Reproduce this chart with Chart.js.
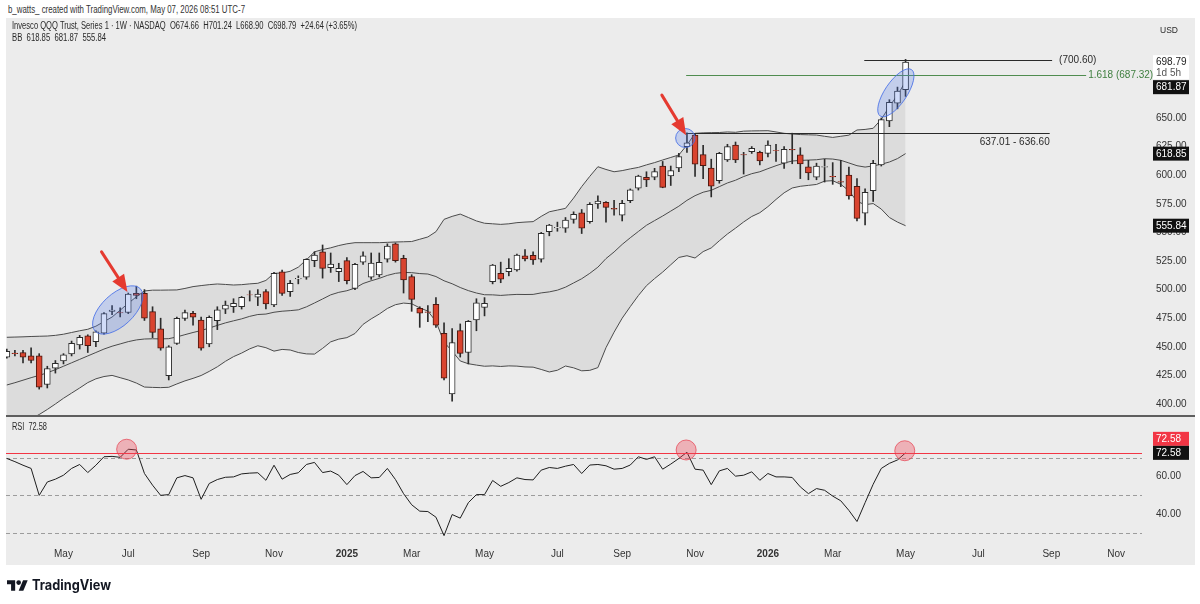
<!DOCTYPE html>
<html lang="en">
<head>
<meta charset="UTF-8">
<title>Invesco QQQ Trust - 1W</title>
<script src="https://cdn.jsdelivr.net/npm/chart.js"></script>
<style>
  body { margin: 0; width: 1200px; height: 604px; background: #fff; position: relative; overflow: hidden;
         font-family: "Liberation Sans", Arial, sans-serif; }
  .panel { position: absolute; left: 6px; top: 18px; width: 1189px; height: 547px; background: #ececec; }
  .sep { position: absolute; left: 6px; top: 415px; width: 1189px; height: 2px; background: #5e5e5e; }
  canvas { position: absolute; left: 0; }
  #priceCanvas { top: 18px; }
  #rsiCanvas { top: 417px; }
  .txt { position: absolute; white-space: pre; transform-origin: left center; color: #2a2a2a; font-size: 10px; line-height: 12px; }
  #logoIcon { position: absolute; left: 7px; top: 578px; }
  #logoTxt { position: absolute; left: 32px; top: 576px; font-family: Inter, "Open Sans", sans-serif; font-weight: 700;
             font-size: 14px; line-height: 18px; color: #131722; white-space: pre; transform-origin: left center; }
</style>
</head>
<body>
<div class="panel"></div>
<canvas id="priceCanvas" width="1200" height="398"></canvas>
<div class="sep"></div>
<canvas id="rsiCanvas" width="1200" height="148"></canvas>

<div class="txt" id="hdr" style="left:8px;top:4px;color:#333">b_watts_ created with TradingView.com, May 07, 2026 08:51 UTC-7</div>
<div class="txt" id="leg1" style="left:12px;top:20px">Invesco QQQ Trust, Series 1 · 1W · NASDAQ  O674.66  H701.24  L668.90  C698.79  +24.64 (+3.65%)</div>
<div class="txt" id="leg2" style="left:12px;top:32px">BB  618.85  681.87  555.84</div>
<div class="txt" id="usd" style="left:1160px;top:24px;font-size:9px">USD</div>
<div class="txt" id="rsiLbl" style="left:12px;top:421px">RSI  72.58</div>
<svg id="logoIcon" width="21" height="15" viewBox="0 2 36 22"><path d="M14 22H7V11H0V4h14v18z" fill="#131722"/><circle cx="20" cy="8" r="4" fill="#131722"/><path d="M28 22h-8l7.5-18h8L28 22z" fill="#131722"/></svg>
<div id="logoTxt">TradingView</div>

<script>
// weekly bars, index 0 = week of 18 Mar 2024, index 111 = week of 4 May 2026
const opens = [441,444.5,445,442,442,417,431.2,437.6,443.7,451.6,
  459.5,454.5,462,481,480,480,496.7,496.7,480.7,465.6,
  424.7,453,474.9,479.3,473.4,452.4,472.8,482.8,485,485.1,
  495.5,493.3,498.2,486.5,515.6,498.2,509.4,510.8,525.3,533.1,
  519.2,515.6,525.3,501.1,524,510.8,512.8,526.5,539.9,527.4,
  511.3,483.6,480.5,487.1,461.8,408.7,464.1,445,473.4,484.5,
  506.9,514.2,515.6,517.1,529.6,530,526.5,550.6,554,553.6,
  561.4,567.2,559.4,574.8,576.3,571,565,577.7,588.6,598.2,
  598.2,608,599.3,606.3,624.9,635.1,618,606.3,595.2,613.3,
  626.4,618,620.5,620,619.1,621.5,610.4,622.5,617.7,607.4,
  598.2,607,599,594.5,600.2,590.3,566.7,586.5,609,647.5,
  663,674.66];
const highs = [448,447,447,449,444,433,438,444,455,460,
  460.5,464,480,486,484,497,503,500,485,475,
  451,476,482,481,476,477,485,490,492,494,
  499,500,500,515,517,508,512,527,533,539,
  532,523,528,523,533,532,532,540,540.8,530,
  513,485,486,493,471,466,470,473,492,493,
  522,524,527,531,535,533,550,557,559,563,
  568,570,576,582,577,578,578,588,600,603,
  606,612,608,619,637,636,626,614,620,627,
  629,620,625,621,630,627,625,636.7,624,613,
  610.5,614,611,613,607,597,588,613,650,666,
  677,701.24];
const lows = [440,442,436,436,413,414,427,435,442,448,
  445,450,461,478,476,479,492,473,458,447,
  421,452,473,469,447,450,465,479,480,483,
  490,486,483,485,495,494,505,509,520,510,
  515,507,505,500,522,509,511,524,524,497,
  481,467,472,467,421,402.4,441,435,464,477,
  505,506,512,516,525,522,524,547,551,550,
  558,549,558,571,559,565,560,576,587,590,
  596,589,591,603,620,599,597,581,593,612,
  611,601,619,609,616,612,606,610,597,596,
  596,594,592,590,579,560,556.5,577,608,642.4,
  658,668.9];
const closes = [446,444,441,438,414.6,431,435.5,443,453,458.3,
  451,463,479,482,479.5,496,495,475,462.6,448.7,
  450,474.9,479.9,475.8,448.7,475.8,482.2,486.5,488,493.3,
  495.3,496,487.4,514.2,496.7,505.5,509.8,526.5,530.2,518.6,
  522.4,518.6,507.9,522.1,529.4,523.2,523.8,538.1,525.3,508.4,
  491.5,479.3,480.1,469,422.5,453.6,444.3,472.3,488.5,488,
  521.5,509,518.6,530.2,526.7,526,549.1,556.4,554.4,560.8,
  565.8,553.6,574.5,577.4,571.9,570.2,575.5,587.1,599.3,595.8,
  603.1,589.4,604,616.2,628.2,609.7,608.4,590.3,619.1,624.9,
  613.3,617.7,623.5,612.4,626.4,621.4,622.6,622,609.8,601.9,
  608,607.5,598.5,594,581.8,562.3,585,610.4,648.5,663.6,
  673.5,698.79];

// Bollinger bands (20, 2)
const bbUpper = [458.3,458.5,458.7,459,459.2,459.4,460,461,462.5,464,
  465.3,468,472,476,482,488,493.7,498.8,499.5,499.5,
  499.6,499.7,501,502.6,503.5,504.3,504.9,504.5,504,504.3,
  505,505.5,508,514.2,514.5,516,519.6,526,533,535,
  536.5,538.5,540,541,541,541,541,541.3,541.6,541.8,
  542,544,546,550.6,561.4,564,566,563,560,558,
  557.5,557,557.5,558.5,559,559.4,564,568,569.5,571,
  580,590,599,607.4,605,603,604,605.5,606.8,609,
  611,613.3,615.5,617.7,626.4,636.6,637,637.2,637.3,637.8,
  637.5,638.5,638.7,638.8,638.9,637.8,636.6,636,635.5,635.3,
  635.1,634,633,634,635,639.5,640,641,648.8,660,
  670,681.87];
const bbMiddle = [416.6,418.6,420.8,423,425,427.3,430,433,436,439,
  442,445,448,450.5,452.5,454.5,456,456.8,457,456.9,
  457.1,458.6,460.6,462.5,464.2,466.4,468.7,470.9,472.7,474.4,
  476.6,478.2,478.6,480.2,481.1,481.6,482.3,484.9,488.3,491.8,
  495.4,497.6,499,501.3,505.3,507.7,509.8,512.4,514.2,515,
  514.8,514,513.6,511.4,507.7,505.1,501.8,499.1,497,495.5,
  495.4,494.9,495.4,495.8,495.7,495.8,497.1,498,499.5,502.1,
  505.8,509.5,514.2,519.6,527.1,532.9,539.5,545.3,550.8,556.2,
  560.3,564.3,568.6,572.9,578,582.1,585.1,586.8,590,593.2,
  595.6,598.8,601.3,603,605.7,608.3,610.6,612.4,612.9,613.2,
  613.5,614.4,614.1,613,610.7,608.3,607.1,608.1,609.6,611.5,
  614.5,618.85];
const bbLower = [374.9,378.7,382.9,387,390.8,395.2,400,405,409.5,414,
  418.7,422,424,425,423,421,418.3,414.8,414.5,414.3,
  414.6,417.5,420.2,422.4,424.9,428.5,432.5,437.3,441.4,444.5,
  448.2,450.9,449.2,446.2,447.7,447.2,445,443.8,443.6,448.6,
  454.3,456.7,458,461.6,469.6,474.4,478.6,483.5,486.8,488.2,
  487.6,484,481.2,472.2,454,446.2,437.6,435.2,434,433,
  433.3,432.8,433.3,433.1,432.4,432.2,430.2,428,429.5,433.2,
  431.6,429,429.4,431.8,449.2,462.8,475,485.1,494.8,503.4,
  509.6,515.3,521.7,528.1,529.6,527.6,533.2,536.4,542.7,548.6,
  553.7,559.1,563.9,567.2,572.5,578.8,584.6,588.8,590.3,591.1,
  591.9,594.8,595.2,592,586.4,577.1,574.2,575.2,570.4,563,
  559,555.84];

// RSI (14)
const rsiValues = [69.6,67.9,66,64.3,50,57.1,58.6,60.7,64.3,66.4,
  62.1,66,70.5,70.7,70.2,74.5,74.1,61.6,55.4,50,
  50.4,59.3,60.5,59.3,47.9,56.3,58.4,59.6,59.8,61.4,
  61.8,62,58,66,58.6,61.1,62,66.4,67.5,62.1,
  62.9,60.7,55.7,60.5,62.7,59.3,59.5,64.3,58.4,50.9,
  45,41.6,41.4,38.4,28.6,39.8,37.9,46.1,50.4,50.4,
  57.9,54.8,56.8,59.3,58.4,58.2,63.4,64.8,64.3,65.5,
  66.4,61.6,66.1,66.4,65.7,63.9,64.3,66.1,70.5,69.1,
  70.5,63.9,66.6,69.6,72.9,63.9,63.4,55.7,63,64.3,
  60.2,60.7,62.5,58,61.6,59.8,59.8,59.5,54.5,50.9,
  53.6,52.7,49.6,47.1,42,36.1,46.1,55.9,64.3,67,
  68.8,72.58];

// time axis
const monthTickIdx = [7,15,24,33,42,50,59,68,76,85,94,102,111,120,129,137];
const monthTickLabels = ['May','Jul','Sep','Nov','2025','Mar','May','Jul','Sep','Nov','2026','Mar','May','Jul','Sep','Nov'];
const priceTicks = [400,425,450,475,500,525,550,575,600,625,650];
const rsiTicks = [40,60];
const rsiLevels = [70,50,30];
const rsiMarkLevel = 72.58;

// drawings
const levelPrice = [700.60, 687.32, 637.01];
const levelFrom = [105.9, 83.9, 83.9];
const levelTo = [129.1, 133.3, 128.8];
const levelColor = ['#2a2a2a', '#4f8c4f', '#2a2a2a'];
const levelText = ['(700.60)', '1.618 (687.32) -', '637.01 - 636.60'];
const ellIdx = [13.7, 83.8, 109.8];
const ellPrice = [482.2, 632.5, 672];
const ellRx = [31, 9.7, 28];
const ellRy = [16, 9.5, 11];
const ellRot = [-43, 0, -56];
const arrowFromIdx = [11.7, 80.9];
const arrowFromPrice = [533, 670];
const arrowToIdx = [14.9, 83.9];
const arrowToPrice = [498, 635];
const rsiCircIdx = [14.8, 83.9, 110.9];
const rsiCircVal = [74.5, 74.1, 73.7];

const FONT = '"Liberation Sans", Arial, sans-serif';
const X_MIN = -0.1, X_MAX = 140.2;
const P_MIN = 389.5, P_MAX = 737.4;
const R_MIN = 25.75, R_MAX = 91.09;

Chart.defaults.font.family = FONT;

function fitText(id, w) {
  const el = document.getElementById(id);
  const nat = el.getBoundingClientRect().width;
  el.style.transform = 'scaleX(' + (w / nat) + ')';
}
fitText('hdr', 237);
fitText('leg1', 345);
fitText('leg2', 94);
fitText('usd', 18);
fitText('rsiLbl', 35);
fitText('logoTxt', 79);

function axisBox(ctx, text, yc, bg, fg) {
  ctx.fillStyle = bg;
  ctx.fillRect(1153, yc - 7, 36, 14);
  ctx.fillStyle = fg;
  ctx.font = '10px ' + FONT;
  ctx.textAlign = 'left';
  ctx.textBaseline = 'middle';
  ctx.fillText(text, 1156, yc + 0.5);
}

function drawArrow(ctx, x0, y0, x1, y1) {
  const a = Math.atan2(y1 - y0, x1 - x0);
  const hl = 17, hw = 7;
  const bx = x1 - hl * Math.cos(a), by = y1 - hl * Math.sin(a);
  ctx.strokeStyle = '#e53a30';
  ctx.fillStyle = '#e53a30';
  ctx.lineWidth = 3;
  ctx.lineCap = 'round';
  ctx.beginPath(); ctx.moveTo(x0, y0); ctx.lineTo(bx, by); ctx.stroke();
  ctx.beginPath();
  ctx.moveTo(x1, y1);
  ctx.lineTo(bx + hw * Math.sin(a), by - hw * Math.cos(a));
  ctx.lineTo(bx - hw * Math.sin(a), by + hw * Math.cos(a));
  ctx.closePath(); ctx.fill();
}

const priceMarks = {
  id: 'priceMarks',
  afterDatasetsDraw(chart) {
    const {ctx, scales: {x, y}} = chart;
    ctx.save();
    // horizontal levels
    levelPrice.forEach((p, k) => {
      const yy = Math.round(y.getPixelForValue(p)) + 0.5;
      const x0 = x.getPixelForValue(levelFrom[k]), x1 = x.getPixelForValue(levelTo[k]);
      ctx.strokeStyle = levelColor[k];
      ctx.lineWidth = 1;
      ctx.beginPath(); ctx.moveTo(x0, yy); ctx.lineTo(x1, yy); ctx.stroke();
      ctx.font = '10px ' + FONT;
      ctx.fillStyle = k === 1 ? '#3f7f3f' : '#2a2a2a';
      if (k === 2) {
        ctx.textAlign = 'right'; ctx.textBaseline = 'top';
        ctx.fillText(levelText[k], x1, yy + 4);
      } else {
        ctx.textAlign = 'left'; ctx.textBaseline = 'middle';
        ctx.fillText(levelText[k], x1 + (k === 0 ? 7 : 2), yy);
      }
    });
    // ellipses
    ellIdx.forEach((v, k) => {
      ctx.beginPath();
      ctx.ellipse(x.getPixelForValue(v), y.getPixelForValue(ellPrice[k]), ellRx[k], ellRy[k],
        ellRot[k] * Math.PI / 180, 0, Math.PI * 2);
      ctx.fillStyle = 'rgba(90,130,235,0.28)';
      ctx.fill();
      ctx.strokeStyle = 'rgba(70,110,230,0.85)';
      ctx.lineWidth = 1;
      ctx.stroke();
    });
    // arrows
    arrowFromIdx.forEach((v, k) => {
      drawArrow(ctx, x.getPixelForValue(v), y.getPixelForValue(arrowFromPrice[k]),
        x.getPixelForValue(arrowToIdx[k]), y.getPixelForValue(arrowToPrice[k]));
    });
    ctx.restore();
  },
  afterDraw(chart) {
    const {ctx, scales: {y}} = chart;
    ctx.save();
    const yLast = y.getPixelForValue(closes[closes.length - 1]);
    ctx.fillStyle = '#ffffff';
    ctx.fillRect(1153, yLast - 7, 36, 24);
    ctx.fillStyle = '#222';
    ctx.font = '10px ' + FONT;
    ctx.textAlign = 'left'; ctx.textBaseline = 'middle';
    ctx.fillText(closes[closes.length - 1].toFixed(2), 1156, yLast + 0.5);
    ctx.fillStyle = '#555';
    ctx.fillText('1d 5h', 1156, yLast + 11);
    const yUp = Math.max(y.getPixelForValue(bbUpper[bbUpper.length - 1]), yLast + 25);
    axisBox(ctx, bbUpper[bbUpper.length - 1].toFixed(2), yUp, '#111', '#fff');
    axisBox(ctx, bbMiddle[bbMiddle.length - 1].toFixed(2), y.getPixelForValue(bbMiddle[bbMiddle.length - 1]), '#111', '#fff');
    axisBox(ctx, bbLower[bbLower.length - 1].toFixed(2), y.getPixelForValue(bbLower[bbLower.length - 1]), '#111', '#fff');
    ctx.restore();
  }
};

const rsiMarks = {
  id: 'rsiMarks',
  beforeDatasetsDraw(chart) {
    const {ctx, chartArea: a, scales: {y}} = chart;
    ctx.save();
    ctx.strokeStyle = '#9c9c9c';
    ctx.lineWidth = 1;
    ctx.setLineDash([4, 3]);
    rsiLevels.forEach(v => {
      const yy = Math.round(y.getPixelForValue(v)) + 0.5;
      ctx.beginPath(); ctx.moveTo(a.left, yy); ctx.lineTo(a.right, yy); ctx.stroke();
    });
    ctx.restore();
  },
  afterDatasetsDraw(chart) {
    const {ctx, chartArea: a, scales: {x, y}} = chart;
    ctx.save();
    const yy = Math.round(y.getPixelForValue(rsiMarkLevel)) + 0.5;
    ctx.strokeStyle = '#f23645';
    ctx.lineWidth = 1;
    ctx.beginPath(); ctx.moveTo(a.left, yy); ctx.lineTo(a.right, yy); ctx.stroke();
    rsiCircIdx.forEach((v, k) => {
      ctx.beginPath();
      ctx.arc(x.getPixelForValue(v), y.getPixelForValue(rsiCircVal[k]), 10, 0, Math.PI * 2);
      ctx.fillStyle = 'rgba(242,70,85,0.35)';
      ctx.fill();
      ctx.strokeStyle = 'rgba(230,60,75,0.7)';
      ctx.stroke();
    });
    ctx.restore();
  },
  afterDraw(chart) {
    const {ctx, scales: {y}} = chart;
    ctx.save();
    const yr = y.getPixelForValue(rsiMarkLevel);
    axisBox(ctx, rsiMarkLevel.toFixed(2), yr - 14, '#f23645', '#fff');
    axisBox(ctx, rsiValues[rsiValues.length - 1].toFixed(2), yr, '#111', '#fff');
    ctx.restore();
  }
};

const xIdx = closes.map((_, i) => i);
const isUp = closes.map((c, i) => c >= opens[i]);

new Chart(document.getElementById('priceCanvas'), {
  type: 'bar',
  data: {
    datasets: [
      { type: 'line', data: xIdx.map(i => ({x: i, y: bbLower[i]})), borderColor: '#4a4a4a', borderWidth: 1,
        pointRadius: 0, order: 9 },
      { type: 'line', data: xIdx.map(i => ({x: i, y: bbMiddle[i]})), borderColor: '#4a4a4a', borderWidth: 1,
        pointRadius: 0, order: 9 },
      { type: 'line', data: xIdx.map(i => ({x: i, y: bbUpper[i]})), borderColor: '#4a4a4a', borderWidth: 1,
        pointRadius: 0, order: 10, fill: 0, backgroundColor: 'rgba(0,0,0,0.065)' },
      { data: xIdx.map(i => ({x: i, y: [lows[i], highs[i]]})), backgroundColor: '#2b2b2b', borderWidth: 0,
        barThickness: 1, grouped: false, order: 2 },
      { data: xIdx.map(i => ({x: i, y: [opens[i], closes[i]]})),
        backgroundColor: isUp.map(u => u ? '#ffffff' : '#d9442f'),
        borderColor: isUp.map(u => u ? '#2b2b2b' : '#4a1810'),
        borderWidth: 1, borderSkipped: false, barThickness: 6, grouped: false, order: 1 }
    ]
  },
  options: {
    responsive: false, animation: false, devicePixelRatio: 1,
    layout: { padding: { left: 6, right: 0, top: 0, bottom: 0 } },
    plugins: { legend: { display: false }, tooltip: { enabled: false } },
    scales: {
      x: { type: 'linear', min: X_MIN, max: X_MAX, offset: false, display: false, grid: { display: false } },
      y: { position: 'right', min: P_MIN, max: P_MAX,
        grid: { display: false, drawTicks: false }, border: { display: false },
        afterBuildTicks: s => { s.ticks = priceTicks.map(v => ({value: v})); },
        ticks: { padding: 14, color: '#333', font: { size: 10 }, callback: v => v.toFixed(2) },
        afterFit: s => { s.width = 58; s.paddingTop = 0; s.paddingBottom = 0; } }
    }
  },
  plugins: [priceMarks]
});

new Chart(document.getElementById('rsiCanvas'), {
  type: 'line',
  data: {
    datasets: [
      { data: xIdx.map(i => ({x: i, y: rsiValues[i]})), borderColor: '#1e1e1e', borderWidth: 1, pointRadius: 0 }
    ]
  },
  options: {
    responsive: false, animation: false, devicePixelRatio: 1,
    layout: { padding: { left: 6, right: 0, top: 1, bottom: 0 } },
    plugins: { legend: { display: false }, tooltip: { enabled: false } },
    scales: {
      x: { type: 'linear', min: X_MIN, max: X_MAX, offset: false,
        grid: { display: false, drawTicks: false }, border: { display: false },
        afterBuildTicks: s => { s.ticks = monthTickIdx.map(v => ({value: v})); },
        ticks: { autoSkip: false, maxRotation: 0, padding: 7, color: '#333',
          font: c => ({ size: 10, weight: (monthTickLabels[c.index] || '').length === 4 ? 'bold' : 'normal' }),
          callback: (v, i) => monthTickLabels[i] },
        afterFit: s => { s.height = 24; s.paddingLeft = 0; s.paddingRight = 0; } },
      y: { position: 'right', min: R_MIN, max: R_MAX,
        grid: { display: false, drawTicks: false }, border: { display: false },
        afterBuildTicks: s => { s.ticks = rsiTicks.map(v => ({value: v})); },
        ticks: { padding: 14, color: '#333', font: { size: 10 }, callback: v => v.toFixed(2) },
        afterFit: s => { s.width = 58; s.paddingTop = 0; s.paddingBottom = 0; } }
    }
  },
  plugins: [rsiMarks]
});
</script>
</body>
</html>
